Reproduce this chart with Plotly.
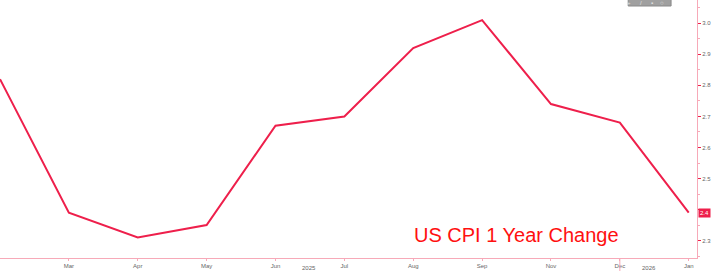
import plotly.graph_objects as go

categories = ["Feb 2025", "Mar 2025", "Apr 2025", "May 2025", "Jun 2025", "Jul 2025",
              "Aug 2025", "Sep 2025", "Nov 2025", "Dec 2025", "Jan 2026"]
cpi_yoy = [2.82, 2.39, 2.31, 2.35, 2.67, 2.70, 2.92, 3.01, 2.74, 2.68, 2.39]
tick_cats = categories[1:]
tick_labels = ["Mar", "Apr", "May", "Jun", "Jul", "Aug", "Sep", "Nov", "Dec", "Jan"]
y_ticks = [2.3, 2.4, 2.5, 2.6, 2.7, 2.8, 2.9, 3.0]
year_labels = ["2025", "2026"]

W, H = 711, 271
L, R, T, B = 0, 12, 0, 13
PW, PH = W - L - R, H - T - B

line_col = "#ee1f4b"
axis_col = "#f7a9b8"
txt_col = "#666666"

last_val = cpi_yoy[-1]
# the tick label hidden behind the last-value box is left blank
y_ticktext = ["" if abs(v - round(last_val, 1)) < 1e-9 else f"{v:.1f}" for v in y_ticks]

fig = go.Figure()
fig.add_trace(go.Scatter(x=categories, y=cpi_yoy, mode="lines",
                         line=dict(color=line_col, width=2), hoverinfo="x+y"))

n = len(categories)
step = 690.7 / (n - 1)
fig.update_layout(
    width=W, height=H, margin=dict(l=L, r=R, t=T, b=B),
    paper_bgcolor="white", plot_bgcolor="white", showlegend=False,
    font=dict(family="Liberation Sans, Arial, sans-serif", size=7, color=txt_col),
    xaxis=dict(type="category", range=[0, PW / step], showgrid=False, zeroline=False,
               showline=True, linecolor=axis_col, linewidth=1,
               tickmode="array", tickvals=tick_cats, ticktext=tick_labels,
               ticks="outside", ticklen=2, tickcolor=axis_col,
               tickfont=dict(size=6, color=txt_col)),
    yaxis=dict(side="right", range=[2.244, 3.075], showgrid=False, zeroline=False,
               showline=True, linecolor=axis_col, linewidth=1,
               tickmode="array", tickvals=y_ticks, ticktext=y_ticktext,
               ticks="outside", ticklen=3, tickcolor=line_col,
               minor=dict(dtick=0.05, ticks="outside", ticklen=2, tickcolor=axis_col, tick0=2.25),
               tickfont=dict(size=6, color=txt_col)),
)

# last value marker
fig.add_annotation(x=1.0, xref="paper", xanchor="left", y=last_val, yref="y",
                   text=f"{last_val:.1f}", showarrow=False, bgcolor=line_col,
                   font=dict(size=6, color="white"), borderpad=1, xshift=1)

# title
fig.add_annotation(x=413 / PW, xref="paper", xanchor="left", y=1 - 235 / PH, yref="paper",
                   yanchor="middle", text="US CPI 1 Year Change", showarrow=False,
                   font=dict(family="Liberation Sans, Arial, sans-serif", size=20, color="#ff1010"))

# year labels
for lbl, px in zip(year_labels, [310, 660]):
    fig.add_annotation(x=px / PW, xref="paper", y=-(268 - PH) / PH, yref="paper",
                       text=lbl, showarrow=False, font=dict(size=6, color=txt_col),
                       yanchor="middle")

# year separator
fig.add_shape(type="line", xref="x", yref="paper", x0=categories[-2], x1=categories[-2],
              y0=0, y1=-B / PH, line=dict(color=axis_col, width=1))

# toolbar box
fig.add_shape(type="rect", xref="paper", yref="paper", x0=630 / PW, x1=673 / PW,
              y0=1 - 6 / PH, y1=1.01, fillcolor="#a0a0a0", line=dict(color="#8a8a8a", width=1))
for i, sym in enumerate(["+", "/", "▪", "○"]):
    fig.add_annotation(x=(635 + i * 11) / PW, xref="paper", y=1 - 3 / PH, yref="paper",
                       text=sym, showarrow=False, font=dict(size=6, color="#e0e0e0"),
                       yanchor="middle")

fig.write_html("out.html", config={"displayModeBar": False})
